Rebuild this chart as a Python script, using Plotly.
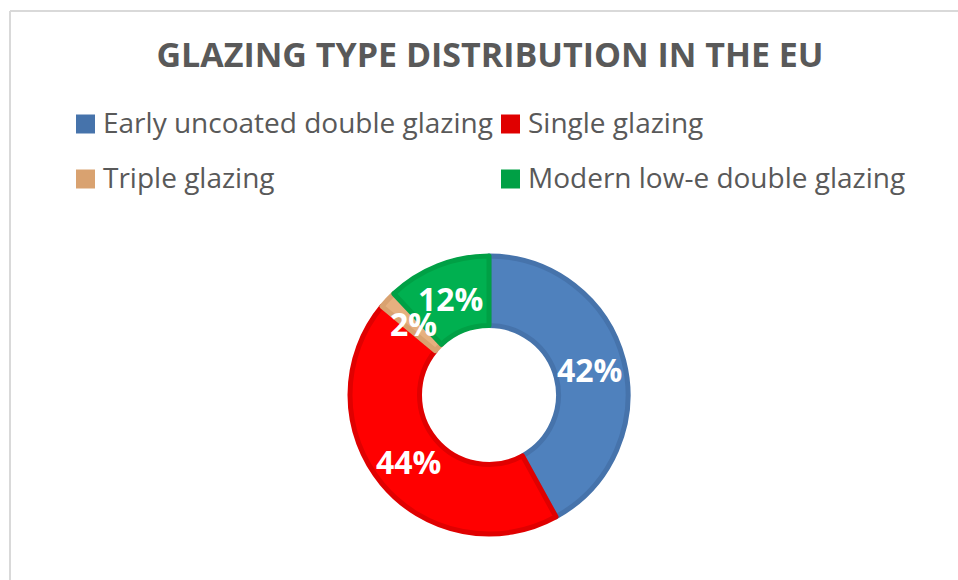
import math
import plotly.graph_objects as go

# ---- data ----
labels = ["Early uncoated double glazing", "Single glazing", "Triple glazing", "Modern low-e double glazing"]
values = [42, 44, 2, 12]
fill_colors = ["#4F81BD", "#FF0000", "#E6B07F", "#00B050"]
edge_colors = ["#4673AB", "#E00000", "#D9A270", "#00A045"]
title_text = "GLAZING TYPE DISTRIBUTION IN THE EU"

# the page margin is removed by post_script, so figure pixels == reference pixels
FW, FH = 958, 580
FONT = "Open Sans"
GRAY = "#595959"


def px(X):
    return X / FW


def py(Y):
    return 1 - Y / FH


# pie geometry (reference pixels)
cx, cy, r = 489, 395, 139
hole = 0.5

fig = go.Figure(go.Pie(
    labels=labels,
    values=values,
    sort=False,
    direction="clockwise",
    rotation=0,
    hole=hole,
    marker=dict(colors=fill_colors, line=dict(color=edge_colors, width=5)),
    textinfo="none",
    showlegend=False,
    hoverinfo="label+percent",
    domain=dict(x=[px(cx - r), px(cx + r)], y=[py(cy + r), py(cy - r)]),
))

shapes = []
annotations = []

# percentage labels at the middle of each ring segment (derived from values)
total = sum(values)
rm = r * (1 + hole) / 2
cum = 0
for v in values:
    mid = (cum + v / 2) / total * 2 * math.pi
    cum += v
    X = cx + rm * math.sin(mid)
    Y = cy - rm * math.cos(mid)
    annotations.append(dict(text=f"{round(100 * v / total)}%", xref="paper", yref="paper",
                            x=px(X), y=py(Y), xanchor="center", yanchor="middle", showarrow=False,
                            font=dict(family=FONT, size=32, color="white", weight="bold")))

# legend built from labels/colours
legend_rows = [122, 177]
legend_cols = [76, 501]
for i, (lab, col) in enumerate(zip(labels, edge_colors)):
    row, c = divmod(i, 2)
    x0 = legend_cols[c]
    yc = legend_rows[row]
    shapes.append(dict(type="rect", xref="paper", yref="paper",
                       x0=px(x0), x1=px(x0 + 19),
                       y0=py(yc + 2 + 9.5), y1=py(yc + 2 - 9.5),
                       fillcolor=col, line=dict(width=0)))
    annotations.append(dict(text=lab, xref="paper", yref="paper",
                            x=px(x0 + 25), y=py(yc),
                            xanchor="left", yanchor="middle", showarrow=False,
                            font=dict(family=FONT, size=28, color=GRAY)))

# chart frame (only its left and top edges are visible in the reference)
frame = dict(color="#D9D9D9", width=2)
shapes.append(dict(type="line", xref="paper", yref="paper", layer="below",
                   x0=px(10), x1=px(10), y0=0, y1=py(11), line=frame))
shapes.append(dict(type="line", xref="paper", yref="paper", layer="below",
                   x0=px(10), x1=1, y0=py(11), y1=py(11), line=frame))

fig.update_layout(
    width=FW, height=FH,
    margin=dict(l=0, r=0, t=0, b=0),
    paper_bgcolor="white",
    plot_bgcolor="white",
    title=dict(text=title_text, x=px(490), xanchor="center", y=py(55), yanchor="middle",
               font=dict(family=FONT, size=34, color=GRAY, weight="bold")),
    shapes=shapes,
    annotations=annotations,
)

fig.write_html(
    "out.html",
    config={"displayModeBar": False},
    post_script=(
        "document.body.style.margin='0';"
        "document.documentElement.style.overflow='hidden';"
        "document.body.style.overflow='hidden';"
    ),
)
